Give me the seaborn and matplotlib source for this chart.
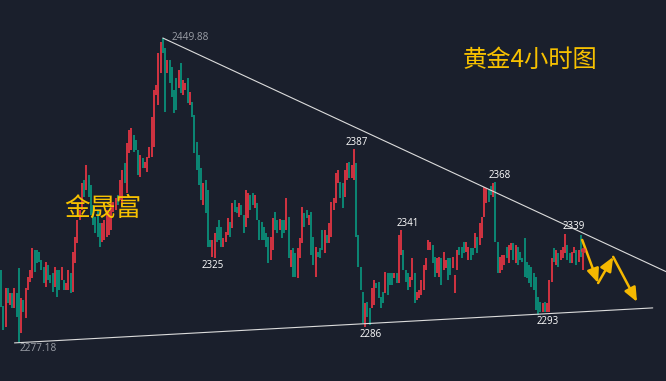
import numpy as np
import pandas as pd
import matplotlib
matplotlib.use('Agg')
import matplotlib.pyplot as plt
import seaborn as sns

# 黄金 4小时 K线 (open / close)
opens = [2318.5, 2298.0, 2286.2, 2308.3, 2298.7, 2305.5, 2297.0, 2305.5, 2319.6, 2282.8,
         2301.5, 2291.3, 2307.2, 2311.7, 2314.0, 2329.8, 2329.8, 2328.7, 2324.2, 2320.2,
         2308.9, 2321.3, 2315.7, 2316.8, 2308.9, 2318.5, 2318.5, 2312.8, 2312.8, 2307.2,
         2307.2, 2316.8, 2306.0, 2322.5, 2333.8, 2346.8, 2352.5, 2369.5, 2363.8, 2372.3,
         2366.6, 2355.3, 2348.5, 2352.5, 2345.1, 2334.4, 2335.5, 2337.2, 2338.3, 2341.2,
         2351.3, 2352.5, 2361.0, 2358.1, 2356.4, 2379.1, 2362.1, 2384.8, 2386.5, 2395.0,
         2392.1, 2386.5, 2371.2, 2381.9, 2376.3, 2374.0, 2381.9, 2382.5, 2388.2, 2417.6,
         2411.9, 2430.1, 2449.88, 2444.2, 2430.1, 2437.4, 2433.5, 2420.4, 2427.2, 2421.6,
         2435.7, 2417.6, 2420.4, 2427.2, 2411.9, 2413.6, 2406.3, 2391.0, 2383.6, 2376.3,
         2355.3, 2369.5, 2363.8, 2335.5, 2325.9, 2325.0, 2342.8, 2346.8, 2342.8, 2331.5,
         2334.4, 2338.3, 2345.7, 2342.3, 2358.1, 2354.2, 2348.5, 2355.3, 2349.7, 2342.8,
         2348.0, 2361.0, 2362.1, 2353.6, 2356.4, 2346.8, 2345.7, 2342.8, 2339.5, 2337.2,
         2324.2, 2329.8, 2351.3, 2346.8, 2341.2, 2346.8, 2346.8, 2341.2, 2348.5, 2320.2,
         2331.0, 2328.1, 2314.0, 2325.3, 2333.8, 2350.8, 2352.5, 2344.0, 2351.3, 2337.2,
         2314.6, 2328.7, 2331.0, 2341.2, 2328.1, 2338.3, 2333.8, 2337.2, 2352.5, 2356.4,
         2367.8, 2368.3, 2367.8, 2359.8, 2369.5, 2379.7, 2370.6, 2369.5, 2379.1, 2338.3,
         2320.2, 2306.0, 2286.0, 2300.4, 2297.0, 2297.0, 2298.7, 2311.1, 2311.7, 2303.2,
         2306.0, 2305.5, 2316.8, 2316.8, 2316.8, 2314.0, 2316.8, 2311.1, 2327.0, 2329.8,
         2318.5, 2316.8, 2308.9, 2312.8, 2316.8, 2301.5, 2302.6, 2304.3, 2307.2, 2318.5,
         2329.8, 2329.8, 2332.7, 2325.9, 2316.8, 2314.6, 2325.3, 2318.5, 2319.6, 2325.3,
         2325.3, 2319.6, 2305.5, 2318.5, 2331.5, 2331.5, 2334.4, 2328.7, 2324.2, 2331.0,
         2331.0, 2331.0, 2337.2, 2332.7, 2336.6, 2348.5, 2356.4, 2363.8, 2366.1, 2359.8,
         2368.3, 2334.4, 2316.8, 2318.5, 2321.3, 2331.5, 2322.5, 2329.8, 2333.8, 2322.5,
         2331.5, 2328.7, 2325.3, 2336.6, 2323.0, 2321.3, 2320.2, 2316.8, 2314.6, 2303.2,
         2300.4, 2294.7, 2300.4, 2294.7, 2294.7, 2311.7, 2331.0, 2321.3, 2328.1, 2324.2,
         2325.3, 2328.1, 2332.7, 2328.1, 2322.5, 2328.1, 2329.8, 2323.0, 2338.3, 2318.5]

closes = [2297.5, 2284.5, 2308.3, 2299.8, 2305.5, 2297.0, 2308.3, 2291.9, 2277.2, 2302.6,
          2294.7, 2308.3, 2314.6, 2318.5, 2331.0, 2317.4, 2322.5, 2323.0, 2318.5, 2311.1,
          2323.0, 2312.8, 2311.1, 2306.0, 2320.2, 2303.2, 2307.2, 2320.2, 2307.2, 2311.1,
          2318.5, 2305.5, 2328.7, 2337.2, 2346.8, 2352.5, 2367.8, 2359.8, 2378.0, 2359.8,
          2349.7, 2344.0, 2339.5, 2337.2, 2331.5, 2345.1, 2346.8, 2352.5, 2351.3, 2356.4,
          2357.0, 2359.3, 2355.3, 2369.5, 2375.1, 2367.8, 2390.4, 2397.8, 2398.9, 2385.3,
          2386.5, 2372.3, 2383.6, 2376.3, 2379.7, 2382.5, 2388.2, 2405.1, 2420.4, 2423.3,
          2441.4, 2447.5, 2441.4, 2408.0, 2437.4, 2424.4, 2416.5, 2407.4, 2409.1, 2431.8,
          2418.7, 2426.1, 2424.4, 2413.1, 2419.3, 2405.1, 2384.8, 2375.1, 2366.6, 2358.1,
          2367.8, 2350.8, 2331.5, 2331.5, 2335.5, 2339.5, 2334.4, 2335.5, 2331.5, 2336.6,
          2340.0, 2348.0, 2337.2, 2356.4, 2351.3, 2350.8, 2356.4, 2349.7, 2339.5, 2363.8,
          2362.1, 2352.5, 2355.3, 2361.0, 2346.8, 2335.5, 2335.5, 2335.5, 2331.5, 2322.5,
          2337.2, 2348.0, 2341.2, 2339.5, 2347.4, 2336.6, 2339.5, 2359.3, 2325.3, 2329.8,
          2314.6, 2314.6, 2331.0, 2336.6, 2354.2, 2342.8, 2348.0, 2349.7, 2327.0, 2321.3,
          2331.5, 2325.9, 2325.3, 2329.8, 2341.2, 2333.8, 2345.1, 2357.0, 2359.3, 2373.4,
          2375.1, 2359.3, 2353.6, 2375.1, 2379.1, 2370.6, 2378.0, 2387.0, 2337.2, 2320.2,
          2307.2, 2288.5, 2299.8, 2291.9, 2287.4, 2308.3, 2312.8, 2308.3, 2302.6, 2297.0,
          2299.8, 2317.4, 2304.3, 2310.0, 2310.0, 2316.8, 2311.1, 2338.3, 2341.0, 2318.5,
          2311.7, 2307.2, 2314.6, 2325.3, 2299.8, 2306.0, 2307.2, 2312.8, 2321.3, 2325.3,
          2335.5, 2334.4, 2322.5, 2314.6, 2325.3, 2325.9, 2310.0, 2328.7, 2324.2, 2312.8,
          2315.7, 2325.9, 2315.7, 2329.8, 2327.0, 2325.3, 2328.1, 2334.4, 2331.5, 2324.2,
          2327.0, 2339.5, 2328.1, 2345.1, 2348.5, 2365.5, 2364.9, 2357.0, 2361.0, 2368.0,
          2334.4, 2316.8, 2325.9, 2327.0, 2327.0, 2325.3, 2332.7, 2333.8, 2324.2, 2332.7,
          2321.3, 2324.2, 2323.0, 2314.6, 2314.0, 2311.1, 2308.9, 2307.2, 2295.9, 2293.0,
          2294.7, 2299.8, 2294.7, 2299.8, 2312.8, 2325.3, 2323.0, 2329.8, 2320.2, 2329.8,
          2331.5, 2339.0, 2324.2, 2322.5, 2328.7, 2331.5, 2321.3, 2329.8, 2325.9, 2328.1]

# 高低点标注
hi_labels = ['2387', '2341', '2368', '2339']
hi_idx = [157, 178, 219, 251]
hi_price = [2387.0, 2341.0, 2368.0, 2339.0]
lo_labels = ['2325', '2286', '2293']
lo_idx = [95, 162, 239]
lo_price = [2325.0, 2286.0, 2293.0]

# 三角形趋势线
upper_x = [72, 296]
upper_y = [2449.88, 2317.5]
lower_x = [6, 290]
lower_y = [2277.18, 2297.0]

# 预测走势箭头
path_x = [258.6, 265.7, 272.4, 283.0]
path_y = [2335.5, 2311.1, 2325.9, 2300.4]

bg = '#1a1f2c'
red = '#f23645'
green = '#089981'
gold = '#f5b800'

df = pd.DataFrame({'open': opens, 'close': closes})
df['idx'] = np.arange(len(df))
df['up'] = df['close'] >= df['open']

sns.set_theme(style='dark', rc={'axes.facecolor': bg, 'figure.facecolor': bg})
plt.rcParams['font.family'] = ['Noto Sans CJK SC', 'DejaVu Sans']

fig = plt.figure(figsize=(6.66, 3.81), dpi=100)
ax = fig.add_axes([0, 0, 1, 1])

ax.vlines(df['idx'], df['open'], df['close'],
          colors=np.where(df['up'], red, green), linewidth=1.2)

sns.lineplot(x=upper_x, y=upper_y, ax=ax, color='#dcdcdc', linewidth=0.8)
sns.lineplot(x=lower_x, y=lower_y, ax=ax, color='#dcdcdc', linewidth=0.8)

# 当前价
ax.scatter([259], [2329.6], s=14, color=red, alpha=0.8, zorder=5, linewidths=0)

# 标注
hi_off = [2, 5, 5, 6]
for t, i, p, dx in zip(hi_labels, hi_idx, hi_price, hi_off):
    ax.annotate(t, (i, p), xytext=(dx, 1), textcoords='offset points',
                ha='center', va='bottom', color='white', fontsize=7, family='Open Sans')
lo_off = [-1, 4, 7]
for t, i, p, dx in zip(lo_labels, lo_idx, lo_price, lo_off):
    ax.annotate(t, (i, p), xytext=(dx, -1), textcoords='offset points',
                ha='center', va='top', color='white', fontsize=7, family='Open Sans')

ax.annotate('2449.88', (upper_x[0], upper_y[0]), xytext=(6, 0), textcoords='offset points',
            ha='left', va='center', color='#9a9ea6', fontsize=7.3, family='Open Sans')
ax.annotate('2277.18', (lower_x[0], lower_y[0]), xytext=(4, -4), textcoords='offset points',
            ha='left', va='center', color='#9a9ea6', fontsize=7.3, family='Open Sans')

for k in range(len(path_x) - 1):
    ax.annotate('', xy=(path_x[k + 1], path_y[k + 1]), xytext=(path_x[k], path_y[k]),
                arrowprops=dict(arrowstyle='-|>,head_length=0.7,head_width=0.3',
                                color=gold, lw=1.8, shrinkA=0, shrinkB=0))

ax.text(0.694, 0.843, '黄金4小时图', transform=ax.transAxes, color='#f7c100',
        fontsize=17.5, ha='left', va='center')
ax.text(0.097, 0.451, '金晟富', transform=ax.transAxes, color='#f7c100',
        fontsize=18.5, ha='left', va='center')

ax.set_xlim(-0.45, 295.9)
ax.set_ylim(2255.6, 2471.4)
ax.set_xticks([])
ax.set_yticks([])
ax.set_xlabel('')
ax.set_ylabel('')
for s in ax.spines.values():
    s.set_visible(False)

fig.savefig('out.png', dpi=100, facecolor=bg)
